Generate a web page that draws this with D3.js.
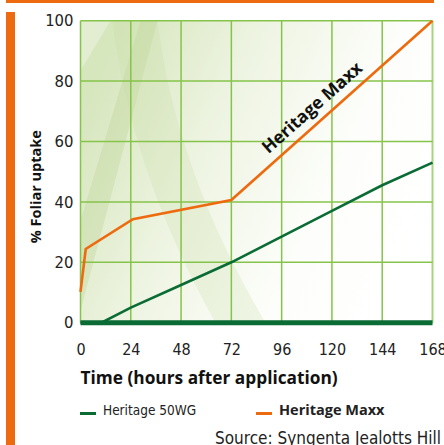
<!DOCTYPE html>
<html>
<head>
<meta charset="utf-8">
<script src="https://cdn.jsdelivr.net/npm/d3@7"></script>
<style>
  body { margin: 0; background: #fff; }
  svg { display: block; font-family: "Open Sans", "DejaVu Sans Condensed", sans-serif; }
</style>
</head>
<body>
<svg id="chart" width="444" height="445"></svg>
<script>
// chart values
const xTicks = [0, 24, 48, 72, 96, 120, 144, 168]
const yTicks = [0, 20, 40, 60, 80, 100]
const hours50wg = [0, 10, 24, 48, 72, 96, 120, 144, 168]
const uptake50wg = [0, 0, 5, 12.5, 20, 28.5, 37, 45.5, 53]
const hoursMaxx = [0, 2.5, 25, 72, 168]
const uptakeMaxx = [10.2, 24.4, 34.3, 40.6, 100]
const seriesNames = ['Heritage 50WG', 'Heritage Maxx']
const seriesColors = ['#0a6b35', '#ee6a0e']

const narrow = '"Liberation Sans Narrow", "DejaVu Sans Condensed", sans-serif'

const svg = d3.select('#chart')
const plotL = 80.5, plotR = 432.5, plotT = 20.7, plotB = 322.7

const x = d3.scaleLinear().domain([0, 168]).range([plotL, plotR])
const y = d3.scaleLinear().domain([0, 100]).range([plotB, plotT])

// orange frame bits
svg.append('rect').attr('x', 6).attr('y', 0).attr('width', 428).attr('height', 3).attr('fill', '#ee6a0e')
svg.append('rect').attr('x', 6).attr('y', 12).attr('width', 9).attr('height', 433).attr('fill', '#ee6a0e')

// background
const defs = svg.append('defs')
const grad = defs.append('linearGradient').attr('id', 'bg')
  .attr('x1', '0').attr('y1', '0.3').attr('x2', '1').attr('y2', '0.7')
grad.append('stop').attr('offset', '0').attr('stop-color', '#d6e6bd')
grad.append('stop').attr('offset', '0.35').attr('stop-color', '#eef4e2')
grad.append('stop').attr('offset', '0.7').attr('stop-color', '#fdfefb')
grad.append('stop').attr('offset', '1').attr('stop-color', '#ffffff')

svg.append('rect')
  .attr('x', plotL).attr('y', plotT)
  .attr('width', plotR - plotL).attr('height', plotB - plotT)
  .attr('fill', 'url(#bg)')

const bgShapes = svg.append('g').attr('pointer-events', 'none')
bgShapes.append('path')
  .attr('d', `M${plotL},${plotT + 200} L${plotL + 60},${plotT} L${plotL + 77},${plotT} L${plotL},${plotT + 290} Z`)
  .attr('fill', '#b9d18f').attr('opacity', 0.3)
bgShapes.append('path')
  .attr('d', `M${plotL + 32},${plotT} Q${plotL + 50},${plotT + 150} ${plotL + 135},${plotB} L${plotL + 185},${plotB} Q${plotL + 95},${plotT + 150} ${plotL + 77},${plotT} Z`)
  .attr('fill', '#c7dba3').attr('opacity', 0.25)
bgShapes.append('path')
  .attr('d', `M${plotL},${plotT} L${plotL + 30},${plotT} L${plotL},${plotT + 50} Z`)
  .attr('fill', '#ffffff').attr('opacity', 0.3)

// grid
const gridColor = '#86c34a'
svg.append('g').selectAll('line').data(xTicks).join('line')
  .attr('x1', d => x(d)).attr('x2', d => x(d))
  .attr('y1', plotT).attr('y2', plotB)
  .attr('stroke', (d, i) => i === xTicks.length - 1 ? '#a9d47f' : gridColor)
  .attr('stroke-width', (d, i) => i === xTicks.length - 1 ? 2 : 1.5)
svg.append('g').selectAll('line').data(yTicks).join('line')
  .attr('x1', plotL).attr('x2', plotR)
  .attr('y1', d => y(d)).attr('y2', d => y(d))
  .attr('stroke', gridColor).attr('stroke-width', 1.5)

// axes labels
const yAxis = svg.append('g').attr('transform', `translate(${plotL},0)`)
  .call(d3.axisLeft(y).tickValues(yTicks).tickSize(0).tickPadding(7))
yAxis.select('.domain').remove()
yAxis.selectAll('text').attr('font-size', 16.5).attr('fill', '#222')
  .attr('font-family', narrow)

const xAxis = svg.append('g').attr('transform', `translate(0,${plotB})`)
  .call(d3.axisBottom(x).tickValues(xTicks).tickSize(0).tickPadding(21))
xAxis.select('.domain').remove()
xAxis.selectAll('text').attr('font-size', 16).attr('fill', '#222')
  .attr('font-family', narrow)

// series
const line = d3.line().x(d => x(d[0])).y(d => y(d[1]))
svg.append('path')
  .datum(d3.zip(hours50wg, uptake50wg))
  .attr('d', line).attr('fill', 'none')
  .attr('stroke', seriesColors[0]).attr('stroke-width', 2.6)
svg.append('path')
  .datum(d3.zip(hoursMaxx, uptakeMaxx))
  .attr('d', line).attr('fill', 'none')
  .attr('stroke', seriesColors[1]).attr('stroke-width', 2.6)

// thick baseline
svg.append('line')
  .attr('x1', plotL).attr('x2', plotR)
  .attr('y1', y(0)).attr('y2', y(0))
  .attr('stroke', seriesColors[0]).attr('stroke-width', 5)

// in-plot label along the Maxx line
const a = [x(72), y(40.6)], b = [x(168), y(100)]
const angle = Math.atan2(b[1] - a[1], b[0] - a[0]) * 180 / Math.PI
svg.append('text')
  .attr('transform', `translate(316,112) rotate(${angle})`)
  .attr('text-anchor', 'middle')
  .attr('font-size', 17.5).attr('font-weight', 'bold').attr('fill', '#111')
  .text(seriesNames[1])

// axis titles
svg.append('text')
  .attr('transform', `translate(41,${(plotT + plotB) / 2 + 15}) rotate(-90)`)
  .attr('text-anchor', 'middle')
  .attr('font-size', 14.5).attr('font-weight', 'bold').attr('fill', '#111')
  .text('% Foliar uptake')

svg.append('text')
  .attr('x', plotL).attr('y', 384)
  .attr('font-size', 17.3).attr('font-weight', 'bold').attr('fill', '#111')
  .text('Time (hours after application)')

// legend
const legendX = [80, 256]
const legend = svg.append('g').selectAll('g').data(seriesNames).join('g')
  .attr('transform', (d, i) => `translate(${legendX[i]},415)`)
legend.append('rect').attr('x', 0).attr('y', -3).attr('width', 16).attr('height', 3)
  .attr('fill', (d, i) => seriesColors[i])
legend.append('text').attr('x', 23).attr('y', 0)
  .attr('font-size', (d, i) => i === 1 ? 14.5 : 13.5).attr('fill', '#222')
  .attr('font-family', (d, i) => i === 1 ? null : narrow)
  .attr('font-weight', (d, i) => i === 1 ? 'bold' : 'normal')
  .text(d => d)

svg.append('text')
  .attr('x', 441).attr('y', 444)
  .attr('text-anchor', 'end')
  .attr('font-size', 17).attr('fill', '#222')
  .attr('font-family', narrow)
  .text('Source: Syngenta Jealotts Hill')
</script>
</body>
</html>
